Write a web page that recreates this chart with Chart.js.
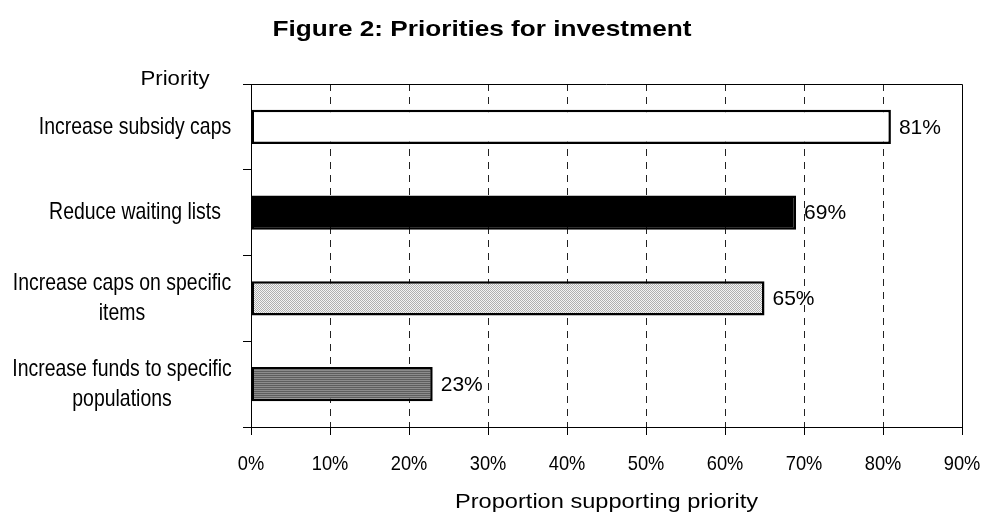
<!DOCTYPE html>
<html>
<head>
<meta charset="utf-8">
<script src="https://cdn.jsdelivr.net/npm/chart.js@4.4.1/dist/chart.umd.min.js"></script>
<style>
    body { margin: 0; background: #fff; }
    #chart { display: block; }
</style>
</head>
<body>
<canvas id="chart" width="983" height="514"></canvas>
<script>
const categories = [
    'Increase subsidy caps',
    'Reduce waiting lists',
    ['Increase caps on specific', 'items'],
    ['Increase funds to specific', 'populations']
];
const values = [81, 69, 65, 23];
const xTicks = [0, 10, 20, 30, 40, 50, 60, 70, 80, 90];
const chartTitle = 'Figure 2: Priorities for investment';
const yTitle = 'Priority';
const xTitle = 'Proportion supporting priority';

const arial = "'Liberation Sans', Arial, sans-serif";

// fills like the old office patterns
function makePattern(rows) {
    const c = document.createElement('canvas');
    c.width = rows[0].length;
    c.height = rows.length;
    const cx = c.getContext('2d');
    for (let y = 0; y < rows.length; y++) {
        for (let x = 0; x < rows[y].length; x++) {
            cx.fillStyle = rows[y][x];
            cx.fillRect(x, y, 1, 1);
        }
    }
    return cx.createPattern(c, 'repeat');
}

const dots = makePattern([['#b0b0b0', '#f4f4f4'], ['#f4f4f4', '#b0b0b0']]);
const stripes = makePattern([['#8c8c8c'], ['#5e5e5e']]);
const fills = ['#ffffff', '#000000', dots, stripes];

// text squeezed or stretched sideways, the reference fonts are not the same width as ours
function putText(ctx, text, x, y, font, sx) {
    ctx.save();
    ctx.font = font;
    ctx.translate(x, y);
    ctx.scale(sx, 1);
    ctx.fillText(text, 0, 0);
    ctx.restore();
}

const extras = {
    id: 'extras',
    afterDraw(chart) {
        const ctx = chart.ctx;
        const a = chart.chartArea;
        const xs = chart.scales.x;
        const ys = chart.scales.y;
        ctx.save();
        ctx.strokeStyle = '#000';
        ctx.lineWidth = 1;
        ctx.beginPath();
        ctx.moveTo(a.left, Math.round(a.top) + 0.5);
        ctx.lineTo(Math.round(a.right) + 0.5, Math.round(a.top) + 0.5);
        ctx.lineTo(Math.round(a.right) + 0.5, a.bottom);
        ctx.stroke();

        ctx.fillStyle = '#000';
        ctx.textBaseline = 'middle';
        ctx.textAlign = 'center';
        putText(ctx, chartTitle, 482, 30, 'bold 22px ' + arial, 1.19);
        putText(ctx, yTitle, 175, 79, '20px ' + arial, 1.11);
        putText(ctx, xTitle, (a.left + a.right) / 2, 502, '20px ' + arial, 1.18);

        // category labels, wrapped ones sit a little further left
        categories.forEach((label, i) => {
            const lines = Array.isArray(label) ? label : [label];
            const cy = ys.getPixelForValue(i);
            const cx = lines.length > 1 ? 122 : 135;
            lines.forEach((line, k) => {
                const ly = cy + (k - (lines.length - 1) / 2) * 30;
                putText(ctx, line, cx, ly, '24px ' + arial, 0.81);
            });
        });

        // value axis labels
        xTicks.forEach(v => {
            putText(ctx, v + '%', xs.getPixelForValue(v), 464, '21px ' + arial, 0.87);
        });

        // value labels at the end of each bar
        ctx.textAlign = 'left';
        ctx.font = '21px ' + arial;
        const meta = chart.getDatasetMeta(0);
        meta.data.forEach((bar, i) => {
            ctx.fillText(values[i] + '%', bar.x + 8, bar.y + 1);
        });
        ctx.restore();
    }
};

new Chart(document.getElementById('chart'), {
    type: 'bar',
    data: {
        labels: categories,
        datasets: [{
            data: values,
            backgroundColor: fills,
            borderColor: '#000',
            borderWidth: 2.5,
            borderSkipped: false,
            barPercentage: 0.4,
            categoryPercentage: 1
        }]
    },
    options: {
        indexAxis: 'y',
        responsive: false,
        animation: false,
        layout: { padding: { top: 84, right: 21, bottom: 0, left: 0 } },
        plugins: {
            legend: { display: false },
            tooltip: { enabled: false },
            title: { display: false }
        },
        scales: {
            x: {
                type: 'linear',
                min: 0,
                max: 90,
                afterBuildTicks: (scale) => {
                    scale.ticks = xTicks.map(v => ({ value: v }));
                },
                afterFit: (scale) => { scale.height = 87; },
                ticks: { display: false },
                grid: {
                    color: (c) => (c.tick && (c.tick.value === 0 || c.tick.value === 90)) ? 'rgba(0,0,0,0)' : '#222',
                    lineWidth: 1,
                    tickLength: 8,
                    tickColor: '#000',
                    tickBorderDash: []
                },
                border: { display: true, color: '#000', width: 1, dash: [7, 6] }
            },
            y: {
                afterFit: (scale) => { scale.width = 251; },
                ticks: { display: false },
                grid: {
                    offset: true,
                    drawOnChartArea: false,
                    tickLength: 8,
                    tickColor: '#000'
                },
                border: { display: true, color: '#000', width: 1 }
            }
        }
    },
    plugins: [extras]
});
</script>
</body>
</html>
